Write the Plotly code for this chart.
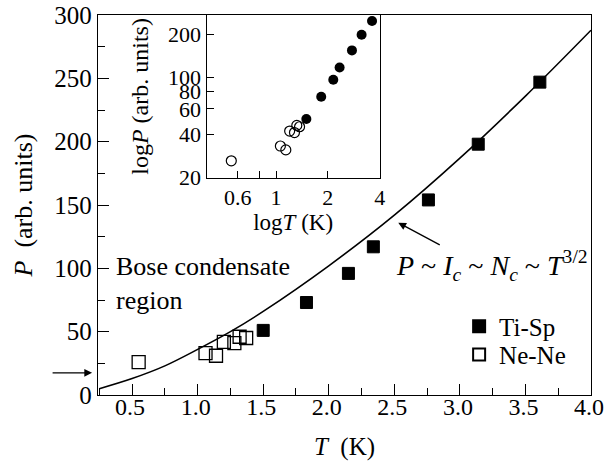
import plotly.graph_objects as go

# ---- data ----
ti_sp_T = [1.50, 1.83, 2.15, 2.34, 2.76, 3.14, 3.61]
ti_sp_P = [51, 73, 96, 117, 154, 198, 247]

ne_ne_T = [0.55, 1.06, 1.14, 1.20, 1.28, 1.32, 1.37]
ne_ne_P = [26, 33, 31, 42, 41, 46, 45]

curve_T = [0.25, 0.5, 0.75, 1.0, 1.25, 1.5, 2.0, 2.5, 3.0, 3.5, 4.0]
curve_P = [5, 13, 23, 36, 50, 66, 102, 142, 187, 236, 288]

main_xticks = [0.5, 1.0, 1.5, 2.0, 2.5, 3.0, 3.5, 4.0]
main_yticks = [0, 50, 100, 150, 200, 250, 300]
inset_xticks = [0.6, 0.8, 1, 2, 4]
inset_xtext = ["0.6", "", "1", "2", "4"]
inset_yticks = [20, 40, 60, 80, 100, 200]

FONT = "Liberation Serif"

fig = go.Figure()

# fit curve
fig.add_trace(go.Scatter(x=curve_T, y=curve_P, mode="lines", line_shape="spline",
                         line=dict(color="black", width=1.6), showlegend=False,
                         hoverinfo="skip"))
# main data
fig.add_trace(go.Scatter(x=ti_sp_T, y=ti_sp_P, mode="markers", name="Ti-Sp",
                         legend="legend",
                         marker=dict(symbol="square", size=12, color="black",
                                     line=dict(color="black", width=1))))
fig.add_trace(go.Scatter(x=ne_ne_T, y=ne_ne_P, mode="markers", name="Ne-Ne",
                         legend="legend2",
                         marker=dict(symbol="square-open", size=13, color="black",
                                     line=dict(width=1.3))))
# inset
fig.add_trace(go.Scatter(x=ti_sp_T, y=ti_sp_P, mode="markers", xaxis="x2", yaxis="y2",
                         showlegend=False,
                         marker=dict(symbol="circle", size=10, color="black")))
fig.add_trace(go.Scatter(x=ne_ne_T, y=ne_ne_P, mode="markers", xaxis="x2", yaxis="y2",
                         showlegend=False,
                         marker=dict(symbol="circle-open", size=10, color="black",
                                     line=dict(width=1.2))))

axis_common = dict(showline=True, linecolor="black", linewidth=1.3, mirror=True,
                   ticks="inside", tickcolor="black", showgrid=False, zeroline=False,
                   automargin=False, ticklabeloverflow="allow")

legend_common = dict(xanchor="left", yanchor="middle", bgcolor="rgba(0,0,0,0)",
                     font=dict(size=25), itemsizing="constant")

fig.update_layout(
    width=605, height=464,
    margin=dict(l=98, r=14, t=15, b=69),
    paper_bgcolor="white", plot_bgcolor="white",
    font=dict(family=FONT, size=25, color="black"),
    xaxis=dict(range=[0.24, 4.0], tickvals=main_xticks, tickformat=".1f",
               ticklen=11, tickwidth=1.2, ticklabelstandoff=-10, ticklabelshift=-2,
               tickfont=dict(size=24),
               minor=dict(dtick=0.25, tick0=0, ticks="inside", ticklen=7, tickcolor="black"),
               title=dict(text="<i>T</i>  (K)", standoff=18, font=dict(size=25)),
               **axis_common),
    yaxis=dict(range=[0, 300], tickvals=main_yticks, ticklen=11, tickwidth=1.2,
               minor=dict(dtick=25, tick0=0, ticks="inside", ticklen=7, tickcolor="black"),
               title=dict(text="<i>P</i>  (arb. units)", standoff=14, font=dict(size=26)),
               **axis_common),
    xaxis2=dict(type="log", domain=[0.2203, 0.5714], anchor="y2",
                range=[-0.403, 0.602], tickvals=inset_xticks, ticktext=inset_xtext,
                ticklen=7, tickfont=dict(size=22),
                title=dict(text="log<i>T</i> (K)", standoff=3, font=dict(size=23)),
                **axis_common),
    yaxis2=dict(type="log", domain=[0.5715, 1.0], anchor="x2",
                range=[1.296, 2.435], tickvals=inset_yticks,
                ticklen=7, tickfont=dict(size=22),
                title=dict(text="log<i>P</i> (arb. units)", standoff=12, font=dict(size=24)),
                **axis_common),
    legend=dict(x=0.7325, y=0.18, **legend_common),
    legend2=dict(x=0.7325, y=0.106, **legend_common),
    annotations=[
        dict(x=0.36, y=88, xref="x", yref="y", xanchor="left", yanchor="middle",
             text="Bose condensate<br>region", showarrow=False, align="left",
             font=dict(size=26)),
        dict(x=2.50, y=102, xref="x", yref="y", xanchor="left", yanchor="middle",
             text="<i>P</i> ~ <i>I<sub>c</sub></i> ~ <i>N<sub>c</sub></i> ~ <i>T</i><sup>3/2</sup>",
             showarrow=False, font=dict(size=28)),
        dict(x=2.53, y=136, xref="x", yref="y", ax=43, ay=23, axref="pixel", ayref="pixel",
             text="", showarrow=True, arrowhead=2, arrowsize=1.2, arrowwidth=1.3,
             arrowcolor="black"),
        dict(x=-0.012, y=17.5, xref="paper", yref="y", ax=-41, ay=0,
             text="", showarrow=True, arrowhead=2, arrowsize=1.2, arrowwidth=1.3,
             arrowcolor="black"),
    ],
)

fig.write_html("out.html", config={"displayModeBar": False},
               post_script="document.body.style.margin='0';document.body.style.overflow='hidden';")
